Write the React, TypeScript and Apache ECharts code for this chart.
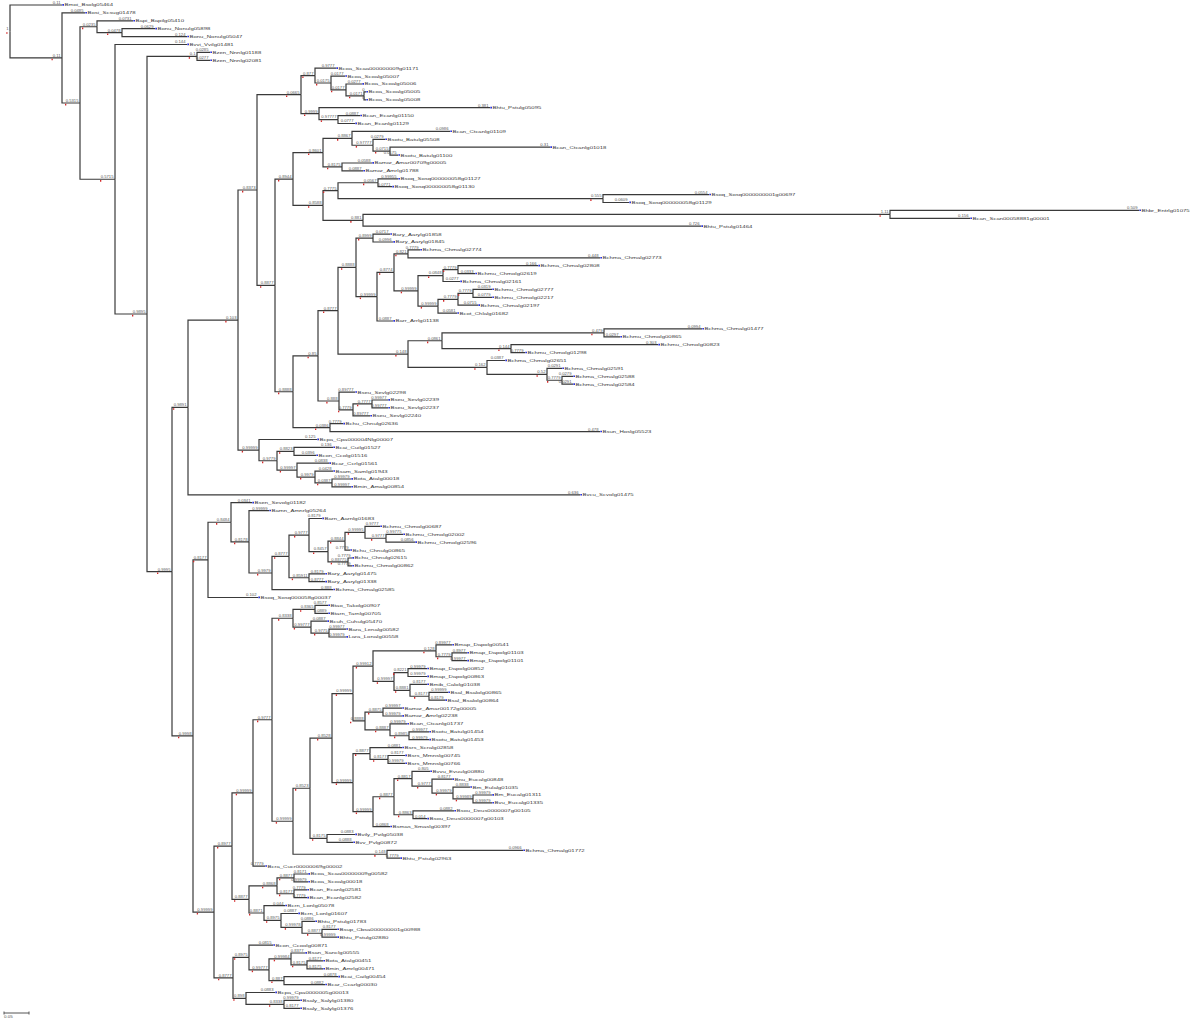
import React, { useEffect, useRef } from "react";
import * as echarts from "echarts";

// ---- tree data (Newick pieces: leaf "name|label:length", inner ")label:length") ----
const sosaA = "(Bcoa_Scoalg05005|0:0.004,Bcoa_Scoalg05008|0:0.004)0.0171:0.036";
const sosaB = `(Bcoa_Scaa000000009g01171|0.9777:0.042,(Bcoa_Scoalg05007|0.0177:0.028,(Bcoa_Scoalg05006|0.0277:0.032,${sosaA})0.0177:0.03)0.0175:0.032)0.877:0.028`;
const sosaC = "(Bhtu_Pstulg05095|0.381:0.342,(Bcan_Ecanlg01150|0.0887:0.044,Bcan_Ecanlg01129|0.0777:0.034)0.97777:0.038)0.9999:0.036";
const cladeC1 = `(${sosaB},${sosaC})0.0665:0.088`;

const canA = "(Bcan_Ctcanlg01109|0.0986:0.196,(Bsotu_Batulg05508|0.0279:0.024,(Bcan_Ctcanlg01018|0.31:0.32,Bsotu_Batulg01100|0.0175:0.016)0.0715:0.034)0.97777:0.042)0.8867:0.058";
const canB = "(Bamar_Amar00709g00005|0.0588:0.06,Bamar_Amrlg01788|0.0887:0.042)0.8175:0.038";
const cladeNb = `(${canA},${canB})0.8601:0.06`;
const soqA = "(Bsoq_Sosq000000058g01127|0.99955:0.04,Bsoq_Sosq000000058g01130|0.0771:0.028)0.0567:0.08";
const soqB = "(Bsoq_Sosq0000000001g00697|0.0554:0.212,Bsoq_Sosq000000058g01129|0.0609:0.052)0.555:0.53";
const entA = "((Bhbr_Entrlg01075|0.509:0.498,Bcan_Scan00058881g00001|0.156:0.16)1.11:1.054,Bhtu_Pstulg01464|0.726:0.676)0.881:0.08";
const cladeNe = `((${soqA},${soqB})0.7775:0.03,${entA})0.8588:0.06`;
const cladeNa = `(${cladeNb},${cladeNe})0.8944:0.036`;

const chmaSf = "(Bchma_Chmalg02774|0.7779:0.024,Bchma_Chmalg02773|0.448:0.384)0.821:0.028";
const chmaSh = "((Bchma_Chmalg02808|0.166:0.16,Bchmu_Chmolg02619|0.0333:0.034)0.7779:0.03,Bchma_Chmalg02161|0.0277:0.034)0.0848:0.05";
const chmaSj = "(((Bchmu_Chmolg02777|0.0319:0.038,Bchmu_Chmolg02217|0.0779:0.038)0.7779:0.03,Bchma_Chmalg02197|0.0715:0.04)0.7779:0.04,Bcot_Chlalg01682|0.0581:0.038)0.99999:0.04";
const cladeSb = `((Bary_Aarylg01858|0.0717:0.034,Bary_Aarylg01845|0.0996:0.04)0.8999:0.034,((${chmaSf},(${chmaSh},${chmaSj})0.99999:0.048)0.8774:0.034,Barr_Arrlg01138|0.0887:0.032)0.99999:0.042)0.8888:0.036`;
const cladeX0 = "(((Bchma_Chmalg01477|0.0994:0.196,Bchmu_Chmolg00865|0.0297:0.032)0.479:0.324,(Bchmu_Chmolg00823|0.303:0.294,Bchmu_Chmolg01298|0.7779:0.028)0.144:0.138)0.0861:0.068,(Bchma_Chmalg02651|0.0387:0.036,(Bchma_Chmalg02591|0.0291:0.03,(Bchma_Chmalg02588|0.0279:0.022,Bchma_Chmalg02584|0.0291:0.022)0.7779:0.03)0.52:0.12)0.162:0.158)0.148:0.14";
const seuU = "(Bseu_Sevlg02298|0.89777:0.032,((Bseu_Sevlg02239|0.99977:0.032,Bseu_Sevlg02237|0.99777:0.032)0.7777:0.038,Bseu_Sevlg02240|0.89777:0.034)0.7779:0.028)0.888:0.042";
const hosT = "(Bchu_Chnulg02636|0.7779:0.026,Bsun_Hoslg05523|0.478:0.54)0.0386:0.074";
const cladeR = `(((${cladeSb},${cladeX0})0.8777:0.04,${seuU})0.85:0.05,${hosT})0.8888:0.036`;
const cladeP1 = `(${cladeC1},(${cladeNa},${cladeR})0.8877:0.036)0.8373:0.038`;

const cladeP2 = "(Bcpa_Cpa000004Nlg00007|0.125:0.116,((Bcai_Cuilg01527|0.136:0.078,Bcon_Ccolg01516|0.0396:0.044)0.8823:0.034,(Bcar_Ccrlg01561|0.0838:0.064,(Bsam_Samlg01943|0.0428:0.036,(Bota_Atalg00018|0.99979:0.038,Bmin_Amalg00854|0.99997:0.038)0.0387:0.034)0.9979:0.036)0.99997:0.04)0.9779:0.036)0.99999:0.042";
const cladeN8 = `((${cladeP1},${cladeP2})0.103:0.1,Bvcu_Scvolg01475|0.636:0.784)0.9891:0.032`;

const chmuY8 = "((Bchmu_Chmolg00687|0.9777:0.03,(Bchmu_Chmolg02002|0.99775:0.034,Bchmu_Chmolg02596|0.0856:0.058)0.9777:0.042)0.99995:0.04,Bchu_Chnulg00865|0.7779:0.01)0.8844:0.034";
const chmuY11 = "(Bchu_Chnulg02615|0.7779:0.008,Bchmu_Chmolg00862|0.7779:0.008)0.88775:0.04";
const cladeY6 = `(Barn_Aarnlg01683|0.8179:0.026,(${chmuY8},${chmuY11})0.8457:0.038)0.9777:0.04`;
const aryY12 = "(Bary_Aarylg01475|0.8179:0.032,Bary_Aarylg01338|0.8777:0.032)0.85911:0.04";
const cladeY4 = `((${cladeY6},${aryY12})0.8777:0.034,Bchma_Chmalg02585|0.888:0.122)0.9979:0.046`;
const cladeY1 = `((Bsen_Sevolg01182|0.0341:0.042,(Bamn_Amnrlg05264|0.99999:0.04,${cladeY4})0.8178:0.036)0.8484:0.046,Bsoq_Sosq000058g00037|0.102:0.1)0.8177:0.03`;

const cladeY24 = "((Btao_Takolg00907|0.8577:0.026,Btarn_Tarnlg00705|0.0889:0.026)0.8365:0.044,(Bcuh_Cuhulg05470|0.0887:0.032,(Bara_Lenalg00582|0.99977:0.034,Lara_Lonalg00558|0.99979:0.034)0.9775:0.036)0.99777:0.036)0.8338:0.042";
const mapY32 = "((Bmap_Dapolg00541|0.89977:0.032,(Bmap_Dapolg01103|0.8977:0.03,Bmap_Dapolg01101|0.99977:0.03)0.7779:0.032)0.128:0.126,((Bmap_Dapolg00852|0.99979:0.038,Bmap_Dapolg00863|0.99979:0.038)0.8221:0.028,(Bmib_Calolg01038|0.8177:0.034,(Bsal_Bsalolg00865|0.99999:0.038,Bsal_Bsalolg00864|0.8179:0.032)0.8177:0.038)0.8881:0.032)0.99997:0.042)0.99912:0.04";
const amarY39 = "((Bamar_Amar00172g00005|0.99997:0.038,Bamar_Amrlg02238|0.99979:0.038)0.8875:0.036,(Bcan_Ctcanlg01737|0.99979:0.034,(Bsotu_Batulg01454|0.99977:0.04,Bsotu_Batulg01453|0.99979:0.04)0.8985:0.038)0.8887:0.05)0.8888:0.024";
const cladeY31 = `(${mapY32},${amarY39})0.99999:0.042`;
const srsY44 = "(Bsrs_Scralg02858|0.0881:0.064,(Bsrs_Mmnslg00745|0.8177:0.034,Bsrs_Mmnslg00766|0.99979:0.034)0.8177:0.036)0.8877:0.034";
const eucY48 = "(Bvvu_Evuulg00880|0.805:0.036,(Bnu_Eucalg00848|0.8177:0.04,(Bm_Eulalg01035|0.8838:0.034,(Bm_Eucalg01311|0.99979:0.038,Bvu_Eucalg01335|0.99979:0.038)0.99989:0.04)0.99979:0.042)0.9777:0.04)0.8817:0.036";
const deuY52 = "(Bsou_Deus0000007g00105|0.0882:0.082,Bsou_Deus0000007g00103|0.014:0.028)0.8863:0.038";
const cladeY43 = `(${srsY44},((${eucY48},${deuY52})0.8877:0.042,Bsmas_Smaslg00397|0.0868:0.034)0.99999:0.04)0.99999:0.042`;
const cladeY29 = `((${cladeY31},${cladeY43})0.8528:0.044,(Bvily_Pvilg05038|0.0883:0.056,Bvv_Pvlg00872|0.0888:0.052)0.8175:0.034)0.8523:0.034`;
const cladeY28 = `(${cladeY29},(Bchma_Chmalg01772|0.0966:0.272,Bhtu_Pstulg02963|0.7779:0.026)0.148:0.188)0.99999:0.042`;
const cladeY22 = `((${cladeY24},${cladeY28})0.9777:0.038,Bcra_Cucr00000069g00002|0.7779:0.024)0.99999:0.042`;
const cladeY55 = "(((Bcoa_Scaa00000009g00582|0.8171:0.028,Bcoa_Scoalg00018|0.99979:0.028)0.8877:0.034,(Bcan_Ecanlg02581|0.7779:0.026,Bcan_Ecanlg02582|0.7779:0.026)0.8177:0.034)0.8868:0.056,(Bcrn_Lonlg05078|0.044:0.042,(Bcrn_Lonlg01607|0.0887:0.034,(Bhtu_Pstulg01783|0.0886:0.026,(Bsup_Cbsa000000001g00988|0.8177:0.03,Bhtu_Pstulg02880|0.99999:0.03)0.8877:0.04)0.99978:0.042)0.8975:0.034)0.8871:0.03)0.8877:0.034";
const cladeY63 = "((Bcon_Ccoolg00871|0.0815:0.048,((Bsan_Sanclg00555|0.8377:0.028,(Bota_Atalg00451|0.8177:0.032,Bmin_Amrlg00471|0.8175:0.032)0.8175:0.032)0.99984:0.044,(Bcai_Cailg00454|0.0878:0.108,Bcar_Ccarlg00030|0.0882:0.082)0.887:0.03)0.99777:0.04)0.8975:0.032,(Bcpa_Cpa0000005g00013|0.0883:0.058,(Bsaly_Salylg01380|0.99979:0.032,Bsaly_Salylg01376|0.8177:0.032)0.8338:0.076)0.898:0.026)0.8777:0.038";
const cladeY20 = `((${cladeY22},${cladeY55})0.8977:0.036,${cladeY63})0.99999:0.042`;
const cladeZ = `(${cladeN8},(${cladeY1},${cladeY20})0.9998:0.042)0.9995:0.05`;
const cladeTop = "(Bapi_Bapilg05410|0.0731:0.072,(Bonu_Nonulg05898|0.0629:0.066,Bonu_Nonulg05047|0.124:0.13)0.0478:0.05)0.0235:0.034";
const cladeN6 = `((Bzen_Nnnlg01188|0.0285:0.026,Bzen_Nnnlg02081|0.0277:0.026)0.1:0.1,${cladeZ})0.9895:0.064`;
const treeNewick = `(Bmoi_Bsolg05464|0.11:0.104,(Bosi_Scsug01478|0.0485:0.046,(${cladeTop},(Bvvi_Vvilg01481|0.144:0.144,${cladeN6})0.5715:0.07)0.5315:0.036)0.11:0.104)1;`;

const scaleBarLength = 0.05;
const scaleBarLabel = "0.05";

const FONT = "'Liberation Sans', Arial, sans-serif";

interface TNode {
  name: string;
  label: string;
  len: number;
  children: TNode[];
  x: number;
  y: number;
}

function parseNewick(src: string): TNode {
  const s = src.replace(/\s+/g, "");
  let i = 0;
  const read = (): TNode => {
    const n: TNode = { name: "", label: "", len: 0, children: [], x: 0, y: 0 };
    if (s[i] === "(") {
      i++;
      n.children.push(read());
      while (s[i] === ",") {
        i++;
        n.children.push(read());
      }
      i++;
    }
    let tok = "";
    while (i < s.length && ",():;".indexOf(s[i]) < 0) tok += s[i++];
    if (n.children.length === 0) {
      const parts = tok.split("|");
      n.name = parts[0];
      n.label = parts[1] || "";
    } else {
      n.label = tok;
    }
    if (s[i] === ":") {
      i++;
      let num = "";
      while (i < s.length && ",();".indexOf(s[i]) < 0) num += s[i++];
      n.len = parseFloat(num);
    }
    return n;
  };
  return read();
}

function buildOption() {
  const root = parseNewick(treeNewick);
  const leaves: TNode[] = [];
  const inner: TNode[] = [];
  const branches: number[][] = [];
  let k = 0;
  const walk = (n: TNode, x: number) => {
    n.x = x;
    if (!n.children.length) {
      n.y = k++;
      leaves.push(n);
      return;
    }
    n.children.forEach((c) => walk(c, x + c.len));
    n.y = (n.children[0].y + n.children[n.children.length - 1].y) / 2;
    inner.push(n);
  };
  walk(root, 0);
  const collect = (n: TNode) =>
    n.children.forEach((c) => {
      branches.push([n.x, n.y, c.x, c.y]);
      collect(c);
    });
  collect(root);
  const labelled = [...inner, ...leaves].filter((n) => n.label !== "");

  return {
    animation: false,
    backgroundColor: "#ffffff",
    grid: { left: 0, right: 0, top: 0, bottom: 0 },
    xAxis: { type: "value", min: -0.02, max: 2.38, show: false },
    yAxis: { type: "value", min: -0.6329, max: 128.987, inverse: true, show: false },
    series: [
      {
        type: "custom",
        silent: true,
        encode: { x: [0, 2], y: [1, 3] },
        data: branches,
        renderItem: (_p: any, api: any) => {
          const a = api.coord([api.value(0), api.value(1)]);
          const b = api.coord([api.value(0), api.value(3)]);
          const c = api.coord([api.value(2), api.value(3)]);
          return {
            type: "polyline",
            shape: { points: [a, b, c] },
            style: { stroke: "#3a3a3a", lineWidth: 1.2, fill: null },
          };
        },
      },
      {
        type: "custom",
        silent: true,
        data: labelled.map((n) => [n.x, n.y]),
        renderItem: (params: any, api: any) => {
          const n = labelled[params.dataIndex];
          const p = api.coord([n.x, n.y]);
          const w = n.label.length * 2.25;
          const children: any[] = [
            {
              type: "text",
              x: p[0] - 1.5,
              y: p[1] - 0.6,
              scaleY: 0.62,
              style: {
                text: n.label,
                fontSize: 4.2,
                fontFamily: FONT,
                fill: "#555555",
                align: "right",
                verticalAlign: "bottom",
              },
            },
          ];
          if (n.children.length) {
            children.push({
              type: "rect",
              shape: { x: p[0] - 1.5 - w, y: p[1] + 0.8, width: 1.3, height: 1.6 },
              style: { fill: "#d42a2a" },
            });
          }
          return { type: "group", children };
        },
      },
      {
        type: "custom",
        silent: true,
        data: leaves.map((n) => [n.x, n.y]),
        renderItem: (params: any, api: any) => {
          const n = leaves[params.dataIndex];
          const p = api.coord([n.x, n.y]);
          return {
            type: "group",
            children: [
              {
                type: "rect",
                shape: { x: p[0] + 0.3, y: p[1] - 0.9, width: 1.7, height: 1.6 },
                style: { fill: "#2a35d8" },
              },
              {
                type: "text",
                x: p[0] + 2.4,
                y: p[1],
                scaleY: 0.62,
                style: {
                  text: n.name,
                  fontSize: 6,
                  fontFamily: FONT,
                  fill: "#3a3a3a",
                  align: "left",
                  verticalAlign: "middle",
                },
              },
            ],
          };
        },
      },
      {
        type: "custom",
        silent: true,
        data: [[-0.012, 127.595]],
        renderItem: (_params: any, api: any) => {
          const x0 = api.value(0);
          const y0 = api.value(1);
          const a = api.coord([x0, y0]);
          const b = api.coord([x0 + scaleBarLength, y0]);
          const st = { stroke: "#555555", lineWidth: 1 };
          return {
            type: "group",
            children: [
              { type: "line", shape: { x1: a[0], y1: a[1], x2: b[0], y2: b[1] }, style: st },
              { type: "line", shape: { x1: a[0], y1: a[1] - 1.5, x2: a[0], y2: a[1] + 1.5 }, style: st },
              { type: "line", shape: { x1: b[0], y1: b[1] - 1.5, x2: b[0], y2: b[1] + 1.5 }, style: st },
              {
                type: "text",
                x: a[0],
                y: a[1] + 2,
                scaleY: 0.7,
                style: {
                  text: scaleBarLabel,
                  fontSize: 4.5,
                  fontFamily: FONT,
                  fill: "#555555",
                  align: "left",
                  verticalAlign: "top",
                },
              },
            ],
          };
        },
      },
    ],
  };
}

export default function App() {
  const ref = useRef<HTMLDivElement>(null);
  useEffect(() => {
    if (!ref.current) return;
    const chart = echarts.init(ref.current, null, { renderer: "svg" });
    chart.setOption(buildOption() as any);
    return () => chart.dispose();
  }, []);
  return (
    <div
      ref={ref}
      style={{ position: "absolute", left: 0, top: 0, width: 1200, height: 1024, background: "#fff" }}
    />
  );
}
